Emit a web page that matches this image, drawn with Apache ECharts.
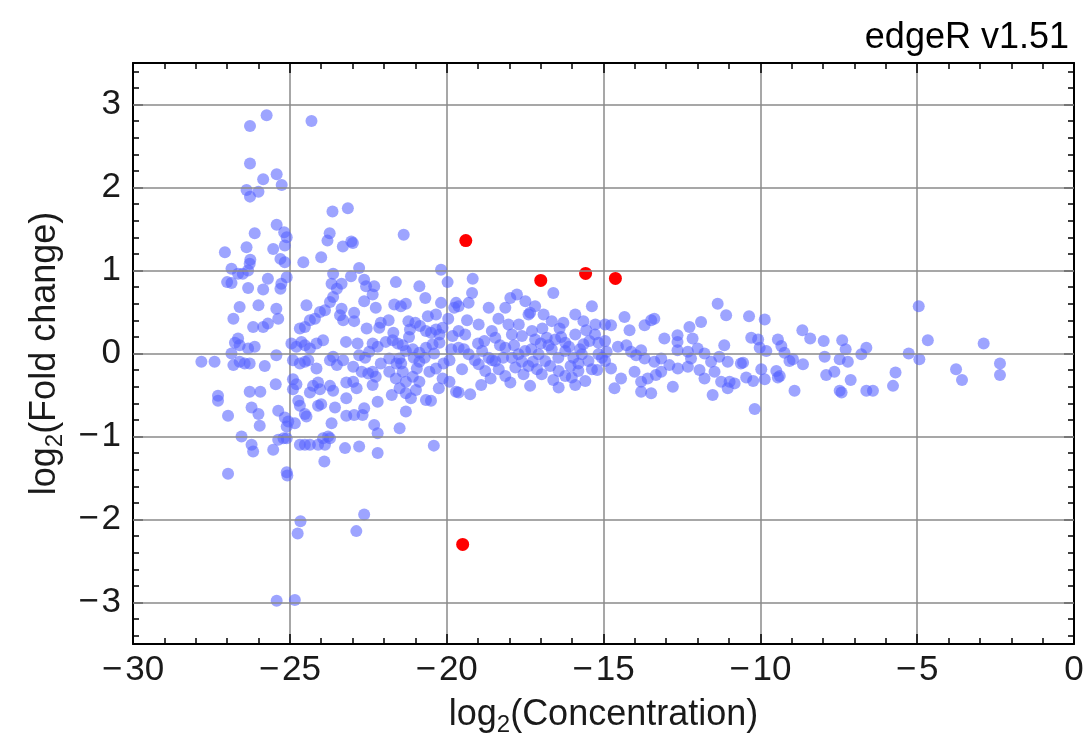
<!DOCTYPE html>
<html><head><meta charset="utf-8">
<script src="https://cdn.jsdelivr.net/npm/echarts@6/dist/echarts.min.js"></script>
<style>html,body{margin:0;padding:0;background:#fff}#c{width:1087px;height:745px}</style>
</head><body><div id="c"></div>
<script>
const titleText = 'edgeR v1.51';
const xTicks = [-30, -25, -20, -15, -10, -5, 0];
const yTicks = [-3, -2, -1, 0, 1, 2, 3];
const yMinorTicks = [-3.4,-3.2,-2.8,-2.6,-2.4,-2.2,-1.8,-1.6,-1.4,-1.2,-0.8,-0.6,-0.4,-0.2,0.2,0.4,0.6,0.8,1.2,1.4,1.6,1.8,2.2,2.4,2.6,2.8,3.2,3.4];

const redPoints = [[-19.39,1.36],[-17.0,0.88],[-15.57,0.965],[-14.62,0.905],[-19.49,-2.30]];

const blueUpper = [[-26.27,2.74],[-25.74,2.87],[-26.27,2.29],[-26.38,1.97],[-26.27,1.89],[-26.0,1.95],[-25.85,2.1],[-25.42,2.16],[-25.26,2.03],[-25.42,1.55],[-24.31,2.8],[-23.64,1.71],[-23.15,1.75],[-23.73,1.45],[-23.8,1.36],[-23.31,1.29],[-23.04,1.35],[-22.99,1.33],[-21.37,1.43],[-24.0,1.16]];

const blueLowOutliers = [[-24.66,-2.02],[-24.75,-2.17],[-22.88,-2.14],[-22.63,-1.94],[-25.42,-2.98],[-24.84,-2.97],[-25.08,-1.47]];

const blueLeftTop = [[-26.12,1.45],[-27.07,1.22],[-26.38,1.28],[-26.26,1.13],[-26.28,1.08],[-25.53,1.26],[-25.16,1.30],[-25.1,1.40],[-25.18,1.46],[-25.16,1.10],[-24.57,1.10],[-26.86,1.02],[-26.65,0.96],[-27.0,0.86],[-26.86,0.85],[-26.5,0.96],[-26.33,1.0],[-25.7,0.9],[-25.85,0.77],[-25.3,0.78],[-25.27,0.84],[-25.1,0.92],[-26.33,0.79],[-26.6,0.56],[-26.8,0.42],[-26.0,0.58],[-25.43,0.54],[-25.37,0.42],[-26.17,0.32],[-25.85,0.32],[-25.7,0.36],[-26.65,0.18],[-24.47,0.58],[-24.68,0.3],[-24.52,0.32],[-24.36,0.4],[-24.2,0.42],[-24.04,0.5],[-23.88,0.52],[-23.72,0.62],[-23.62,0.68],[-23.62,0.96],[-23.67,0.84],[-23.5,0.78],[-23.35,0.84],[-23.35,0.54],[-23.4,0.46],[-23.3,0.4],[-25.3,1.14],[-26.75,0.13]];

const blueLeftBottom = [[-27.82,-0.1],[-27.4,-0.1],[-26.8,-0.14],[-26.6,-0.1],[-26.44,-0.12],[-26.28,-0.12],[-26.86,0],[-26.6,0.1],[-26.33,0.06],[-26.12,0.08],[-25.8,-0.15],[-25.43,-0.02],[-27.29,-0.51],[-27.29,-0.57],[-26.28,-0.46],[-25.94,-0.46],[-25.45,-0.37],[-26.22,-0.65],[-26.0,-0.73],[-25.96,-0.87],[-26.97,-0.75],[-25.37,-0.69],[-25.16,-0.77],[-25.05,-0.82],[-25.1,-0.88],[-26.54,-1.0],[-26.22,-1.1],[-26.17,-1.18],[-25.53,-1.16],[-25.37,-1.04],[-25.2,-1.02],[-25.1,-1.02],[-26.97,-1.45],[-25.1,-1.43],
[-24.95,0.12],[-24.79,0.08],[-24.63,0.14],[-24.52,0.1],[-24.36,0.06],[-24.15,0.12],[-23.94,0.16],
[-24.9,-0.08],[-24.68,-0.12],[-24.52,-0.1],[-24.41,-0.08],[-24.15,-0.18],[-23.72,-0.08],[-23.62,-0.04],[-23.5,-0.14],[-23.3,-0.08],
[-24.9,-0.31],[-24.79,-0.37],[-24.9,-0.43],[-24.26,-0.39],[-24.1,-0.35],[-24.04,-0.43],[-24.36,-0.47],[-23.72,-0.39],[-23.62,-0.45],[-23.2,-0.35],
[-24.73,-0.57],[-24.68,-0.63],[-24.52,-0.73],[-24.47,-0.76],[-24.1,-0.63],[-24.0,-0.61],[-23.56,-0.65],[-23.2,-0.75],
[-24.84,-0.84],[-23.67,-0.84],[-23.78,-1.0],[-23.72,-1.02],[-23.94,-1.02],[-24.68,-1.1],[-24.52,-1.1],[-24.36,-1.1],[-24.1,-1.1],[-23.88,-1.1],[-23.24,-1.14],[-23.9,-1.3]];

const blueMidLeftTop = [[-22.79,1.03],[-23.05,0.93],[-22.63,0.89],[-22.57,0.81],[-22.31,0.81],[-22.36,0.71],[-21.62,0.86],[-20.87,0.81],[-20.68,0.67],[-20.18,1.01],[-19.97,0.86],[-19.7,0.61],[-19.76,0.55],[-21.67,0.59],[-21.46,0.57],[-21.3,0.6],[-20.34,0.47],[-20.18,0.61],[-22.95,0.49],[-22.95,0.39],[-22.63,0.63],[-22.26,0.55],[-22.1,0.37],[-22.15,0.31],[-21.22,0.39],[-21.0,0.37],[-20.85,0.33],[-21.17,0.29],[-20.66,0.27],[-20.5,0.25],[-20.34,0.29],[-20.23,0.23],[-20.13,0.31],[-23.21,0.14],[-22.84,0.12],[-22.36,0.12],[-22.2,0.08],[-21.94,0.14],[-21.72,0.16],[-21.56,0.12],[-21.4,0.1],[-21.3,0.03],[-21.08,0.05],[-20.87,0.01],[-20.66,0.07],[-20.45,0.11],[-20.23,0.13],[-19.81,0.21],[-21.83,-0.06],[-21.51,-0.06],[-20.87,-0.1],[-19.91,-0.08],[-22.79,-0.02],[-22.47,0.02],
[-22.1,-0.12],[-21.7,0.25],[-21.45,-0.12],[-21.2,0.2],[-20.95,-0.18],[-20.7,-0.05],[-20.4,0.0],[-20.1,-0.12],[-19.85,0.05],[-22.6,-0.05],[-21.85,0.4],[-21.05,-0.05],[-22.55,0.3],[-20.6,0.45],[-19.95,0.42],[-21.6,-0.12]];

const blueMidLeftBottom = [[-22.98,-0.16],[-22.71,-0.22],[-22.5,-0.24],[-22.36,-0.22],[-22.26,-0.28],[-22.98,-0.34],[-22.87,-0.42],[-22.36,-0.38],[-21.83,-0.22],[-21.62,-0.3],[-21.4,-0.22],[-21.3,-0.34],[-21.08,-0.28],[-20.87,-0.34],[-21.5,-0.42],[-20.98,-0.44],[-21.3,-0.48],[-21.14,-0.54],[-20.55,-0.22],[-20.34,-0.18],[-20.13,-0.3],[-19.91,-0.34],[-19.7,-0.46],[-20.66,-0.56],[-20.5,-0.57],[-23.2,-0.54],[-22.2,-0.58],[-22.95,-0.74],[-22.68,-0.74],[-22.63,-0.66],[-21.3,-0.7],[-22.31,-0.86],[-22.2,-0.96],[-21.5,-0.9],[-22.79,-1.12],[-22.2,-1.2],[-20.41,-1.11],
[-20.25,-0.42],[-21.75,-0.5]];

const blueCentre = [[-19.17,0.9],[-19.19,0.73],[-19.3,0.61],[-19.62,0.57],[-18.66,0.55],[-18.13,0.55],[-17.97,0.67],[-17.76,0.71],[-17.49,0.63],[-17.18,0.57],[-17.39,0.47],[-17.34,0.49],[-16.91,0.47],[-16.6,0.73],[-16.65,0.39],[-16.28,0.37],[-15.9,0.47],[-15.64,0.39],[-15.37,0.57],[-15.26,0.35],[-14.95,0.35],
[-18.98,0.35],[-19.41,0.23],[-19.62,0.27],[-18.56,0.27],[-18.45,0.19],[-18.03,0.35],[-17.92,0.23],[-17.6,0.21],[-17.28,0.27],[-17.18,0.17],[-16.81,0.19],[-16.54,0.17],[-16.22,0.13],[-15.9,0.23],[-15.64,0.11],[-15.27,0.23],[-15.16,0.13],[-14.95,0.15],
[-19.62,0.07],[-19.3,-0.01],[-18.87,0.03],[-18.66,-0.05],[-18.45,-0.09],[-18.13,0.07],[-17.92,-0.05],[-17.71,-0.01],[-17.5,0.03],[-17.07,-0.01],[-16.86,-0.09],[-16.65,0.05],[-16.44,-0.05],[-16.22,0.03],[-15.96,-0.05],[-15.69,-0.01],[-15.48,-0.09],[-15.16,-0.01],[-14.95,-0.09],
[-19.51,-0.19],[-18.98,-0.13],[-18.77,-0.21],[-18.34,-0.19],[-18.13,-0.27],[-17.81,-0.17],[-17.39,-0.15],[-17.12,-0.19],[-16.97,-0.25],[-16.43,-0.21],[-16.22,-0.27],[-16.01,-0.29],[-15.8,-0.21],[-15.37,-0.19],[-15.58,-0.33],
[-19.25,-0.49],[-19.62,-0.47],[-17.97,-0.35],[-17.34,-0.39],[-16.43,-0.41],
[-19.0,0.12],[-18.3,0.1],[-17.0,0.12],[-16.1,0.08],[-15.8,-0.12],[-17.6,-0.1],[-18.55,-0.08],[-16.7,-0.15],[-15.2,-0.2],[-14.9,0.02],
[-19.45,0.05],[-19.1,-0.08],[-18.8,0.15],[-18.2,-0.05],[-17.85,0.1],[-17.3,0.05],[-17.25,-0.1],[-16.75,0.1],[-16.35,0.2],[-16.05,-0.15],[-15.75,0.05],[-15.45,0.15],[-15.05,-0.05],[-18.6,-0.3],[-17.55,-0.25],[-16.6,-0.32],[-15.9,-0.38],[-19.35,0.4],[-18.35,0.42],[-16.95,0.3],[-15.55,0.28],[-18.9,-0.38],[-17.7,0.35],[-16.4,0.3]];

const blueMidRight = [[-14.76,0.34],[-14.33,0.44],[-13.69,0.34],[-13.48,0.4],[-13.38,0.42],[-14.17,0.28],[-13.06,0.18],[-12.64,0.22],[-12.64,0.14],[-12.26,0.32],[-11.89,0.38],[-12.16,0.18],[-11.36,0.6],[-11.09,0.46],
[-14.54,0.08],[-14.27,0.1],[-14.12,0.02],[-13.96,-0.02],[-13.8,0.04],[-13.69,-0.06],[-13.38,-0.1],[-13.16,-0.06],[-12.9,-0.14],[-12.64,0.04],[-12.31,0.02],[-12.21,-0.06],[-12.0,0.06],[-11.78,0],[-11.57,-0.1],[-11.31,-0.04],[-11.15,0.1],[-11.04,-0.1],[-10.62,-0.12],
[-14.76,-0.18],[-14.44,-0.3],[-14.01,-0.22],[-13.8,-0.34],[-13.59,-0.3],[-13.33,-0.26],[-13.16,-0.22],[-12.63,-0.18],[-12.31,-0.16],[-11.94,-0.2],[-11.78,-0.3],[-11.46,-0.22],[-11.25,-0.34],[-10.98,-0.34],[-10.82,-0.36],
[-14.65,-0.42],[-13.8,-0.46],[-13.48,-0.48],[-12.79,-0.4],[-11.52,-0.5],[-11.04,-0.42]];

const blueRight = [[-10.36,0.45],[-9.86,0.41],[-10.29,0.19],[-10.07,0.17],[-10.02,0.07],[-9.81,0.03],[-9.44,0.17],[-9.33,0.09],[-9.23,0.01],[-9.07,-0.09],[-8.96,-0.07],[-8.64,-0.13],[-8.91,-0.45],[-9.38,-0.27],[-9.44,-0.29],[-9.49,-0.21],[-10.55,-0.11],[-10.45,-0.29],[-10.23,-0.33],[-9.97,-0.19],[-9.86,-0.31],[-10.18,-0.67],[-8.66,0.28],[-8.41,0.18],[-7.98,0.15],[-7.39,0.16],[-7.28,0.05],[-7.95,-0.04],[-7.47,-0.07],[-7.21,-0.1],[-7.9,-0.26],[-7.64,-0.22],[-7.12,-0.32],[-7.47,-0.45],[-7.41,-0.47],[-6.78,-0.01],[-6.62,0.07],[-6.62,-0.45],[-6.41,-0.45],[-5.69,-0.23],[-5.77,-0.39],[-5.27,0],[-4.93,-0.07],[-4.95,0.57],[-4.66,0.16],[-3.76,-0.19],[-3.57,-0.32],[-2.88,0.12],[-2.36,-0.12],[-2.36,-0.26]];

const bluePoints = [].concat(blueUpper, blueLowOutliers, blueLeftTop, blueLeftBottom, blueMidLeftTop, blueMidLeftBottom, blueCentre, blueMidRight, blueRight);

const FONT = "'Liberation Sans', Arial, Helvetica, sans-serif";
const TXT = '#1a1a1a';
const fmt = v => (v < 0 ? '\u2212\u200A' + Math.abs(v) : String(v));

const chart = echarts.init(document.getElementById('c'), null, {renderer: 'canvas'});
const tickLine = {color: '#000', width: 1.5};
const frameLine = {show: true, onZero: false, lineStyle: {color: '#000', width: 2}};
const noLine = {show: false, onZero: false};
const nameRich = {
  s: {fontSize: 24, fontFamily: FONT, color: TXT, verticalAlign: 'bottom', lineHeight: 24}
};

chart.setOption({
  animation: false,
  backgroundColor: '#fff',
  title: {
    text: titleText, right: 13, top: 15,
    textStyle: {fontSize: 36, fontWeight: 'normal', color: '#000', fontFamily: FONT}
  },
  grid: {left: 133, right: 13, top: 63, bottom: 101, containLabel: false},
  xAxis: [
    {
      type: 'value', position: 'bottom', min: -30, max: 0, interval: 5,
      axisLine: frameLine,
      axisTick: {show: true, inside: true, length: 10, lineStyle: tickLine},
      minorTick: {show: true, splitNumber: 5, length: 6, lineStyle: tickLine},
      axisLabel: {show: true, margin: 9, fontSize: 35, color: TXT, fontFamily: FONT, formatter: fmt, customValues: xTicks},
      splitLine: {show: true, lineStyle: {color: '#8a8a8a', width: 1.5}},
      name: 'log{s|2}(Concentration)', nameLocation: 'middle', nameGap: 42,
      nameTextStyle: {fontSize: 36, color: TXT, fontFamily: FONT, lineHeight: 44, rich: nameRich}
    },
    {
      type: 'value', position: 'top', min: -30, max: 0, interval: 5,
      axisLine: frameLine,
      axisTick: {show: true, inside: true, length: 10, lineStyle: tickLine},
      minorTick: {show: true, splitNumber: 5, length: 6, lineStyle: tickLine},
      axisLabel: {show: false},
      splitLine: {show: false}
    }
  ],
  yAxis: [
    {
      type: 'value', position: 'left', min: -3.5, max: 3.5,
      axisLine: frameLine,
      axisTick: {show: true, inside: true, length: 10, lineStyle: tickLine, customValues: yTicks},
      axisLabel: {show: true, margin: 12, fontSize: 35, color: TXT, fontFamily: FONT, formatter: fmt, customValues: yTicks},
      splitLine: {show: false},
      name: 'log{s|2}(Fold change)', nameLocation: 'middle', nameGap: 66, nameRotate: 90,
      nameTextStyle: {fontSize: 36, color: TXT, fontFamily: FONT, lineHeight: 44, rich: nameRich}
    },
    {
      type: 'value', position: 'left', min: -3.5, max: 3.5,
      axisLine: noLine,
      axisTick: {show: true, inside: true, length: 6, lineStyle: tickLine, customValues: yMinorTicks},
      axisLabel: {show: false}, splitLine: {show: false}
    },
    {
      type: 'value', position: 'right', min: -3.5, max: 3.5,
      axisLine: frameLine,
      axisTick: {show: true, inside: true, length: 10, lineStyle: tickLine, customValues: yTicks},
      axisLabel: {show: false}, splitLine: {show: false}
    },
    {
      type: 'value', position: 'right', min: -3.5, max: 3.5,
      axisLine: noLine,
      axisTick: {show: true, inside: true, length: 6, lineStyle: tickLine, customValues: yMinorTicks},
      axisLabel: {show: false}, splitLine: {show: false}
    }
  ],
  series: [
    {
      type: 'scatter', xAxisIndex: 0, yAxisIndex: 0, data: bluePoints,
      symbolSize: 12, itemStyle: {color: 'rgba(85,98,255,0.72)'}, silent: true, z: 3,
      markLine: {
        silent: true, symbol: 'none', label: {show: false}, animation: false,
        lineStyle: {color: '#8a8a8a', width: 1.5, type: 'solid'},
        data: yTicks.map(v => ({yAxis: v}))
      }
    },
    {
      type: 'scatter', xAxisIndex: 0, yAxisIndex: 0, data: redPoints,
      symbolSize: 13, itemStyle: {color: '#ff0000', opacity: 1}, silent: true, z: 4
    }
  ]
});
</script>
</body></html>
